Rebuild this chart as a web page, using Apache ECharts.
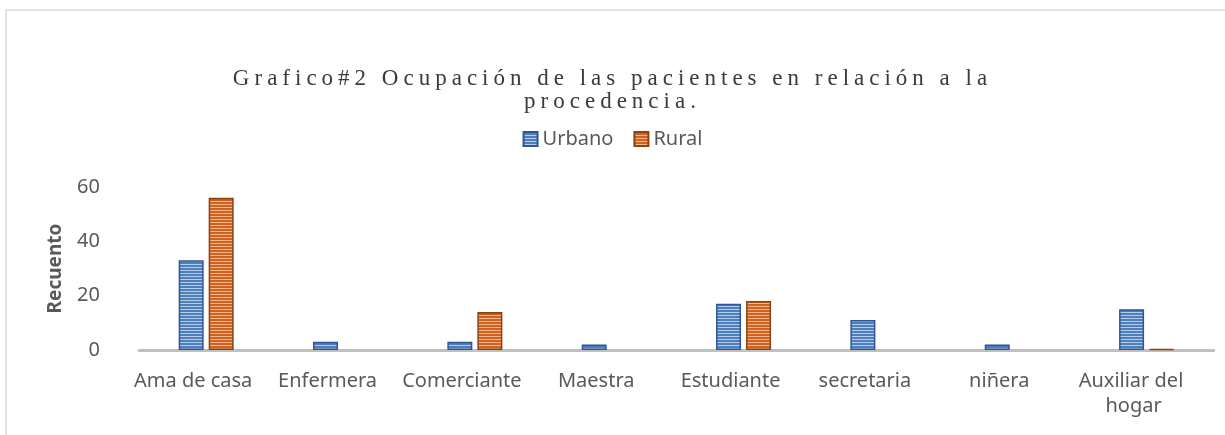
<!DOCTYPE html>
<html>
<head>
<meta charset="utf-8">
<script src="https://cdn.jsdelivr.net/npm/echarts@6/dist/echarts.min.js"></script>
<style>
  html, body { margin: 0; padding: 0; background: #fff; }
  #main { width: 1225px; height: 435px; }
</style>
</head>
<body>
<div id="main"></div>
<script>
// datos
var categorias = ['Ama de casa', 'Enfermera', 'Comerciante', 'Maestra', 'Estudiante', 'secretaria', 'niñera', 'Auxiliar del hogar'];
var urbano = [33, 3, 3, 2, 17, 11, 2, 15];
var rural = [56, 0, 14, 0, 18, 0, 0, 0.3];
var series_nombres = ['Urbano', 'Rural'];
var tituloTexto = 'Grafico#2 Ocupación de las pacientes en relación a la\nprocedencia.';

// el titulo lleva espaciado entre letras (como en Excel)
var TITLE_FONT = 'Liberation Serif';
var proto = CanvasRenderingContext2D.prototype;
['fillText', 'measureText'].forEach(function (fn) {
    var orig = proto[fn];
    proto[fn] = function () {
        this.letterSpacing = this.font.indexOf(TITLE_FONT) >= 0 ? '5px' : '0px';
        return orig.apply(this, arguments);
    };
});

// textura de rayas horizontales para las barras
function rayas(claro, oscuro) {
    var c = document.createElement('canvas');
    c.width = 3; c.height = 3;
    var ctx = c.getContext('2d');
    ctx.fillStyle = oscuro;
    ctx.fillRect(0, 0, 3, 3);
    ctx.fillStyle = claro;
    ctx.fillRect(0, 0, 3, 1);
    return { image: c, repeat: 'repeat' };
}
var azul = rayas('#b4cdea', '#4e7fbb');
var naranja = rayas('#f6b98e', '#cf6220');

// los ceros no se dibujan
function sinCeros(arr) {
    return arr.map(function (v) { return v === 0 ? '-' : v; });
}

var myChart = echarts.init(document.getElementById('main'));

var option = {
    backgroundColor: '#fff',
    animation: false,
    title: {
        text: tituloTexto,
        left: 'center',
        top: 62,
        textStyle: {
            fontFamily: TITLE_FONT,
            fontSize: 23,
            fontWeight: 'normal',
            color: '#3a3a3a',
            lineHeight: 23,
            align: 'center'
        }
    },
    legend: {
        top: 124,
        left: 'center',
        icon: 'rect',
        itemWidth: 14,
        itemHeight: 14,
        itemGap: 20,
        textStyle: { fontFamily: 'Noto Sans', fontSize: 20, color: '#595959' },
        data: series_nombres
    },
    graphic: [{
        type: 'rect',
        shape: { x: 6, y: 10, width: 1300, height: 500 },
        style: { fill: 'none', stroke: '#d9d9d9', lineWidth: 1.5 },
        silent: true
    }],
    grid: { left: 139, right: 10, top: 187, bottom: 85 },
    xAxis: {
        type: 'category',
        data: categorias,
        axisTick: { show: false },
        axisLine: { lineStyle: { color: '#c0c0c0', width: 3 } },
        axisLabel: {
            interval: 0,
            margin: 19,
            color: '#595959',
            fontFamily: 'Noto Sans',
            fontSize: 20,
            lineHeight: 25,
            width: 125,
            overflow: 'break',
            padding: [0, 26, 0, 0]
        }
    },
    yAxis: {
        type: 'value',
        min: 0,
        max: 60,
        interval: 20,
        name: 'Recuento',
        nameLocation: 'middle',
        nameGap: 74,
        nameTextStyle: { fontFamily: 'Noto Sans', fontSize: 19, fontWeight: 'bold', color: '#595959' },
        axisLine: { show: false },
        axisTick: { show: false },
        splitLine: { show: false },
        axisLabel: { color: '#595959', fontFamily: 'Noto Sans', fontSize: 20, margin: 39 }
    },
    series: [{
        name: series_nombres[0],
        type: 'bar',
        barWidth: 25,
        barGap: '20%',
        itemStyle: { color: azul, borderColor: '#2f5597', borderWidth: 1.5 },
        data: sinCeros(urbano)
    }, {
        name: series_nombres[1],
        type: 'bar',
        barWidth: 25,
        itemStyle: { color: naranja, borderColor: '#8a420f', borderWidth: 1.5 },
        data: sinCeros(rural)
    }]
};
myChart.setOption(option);
</script>
</body>
</html>
